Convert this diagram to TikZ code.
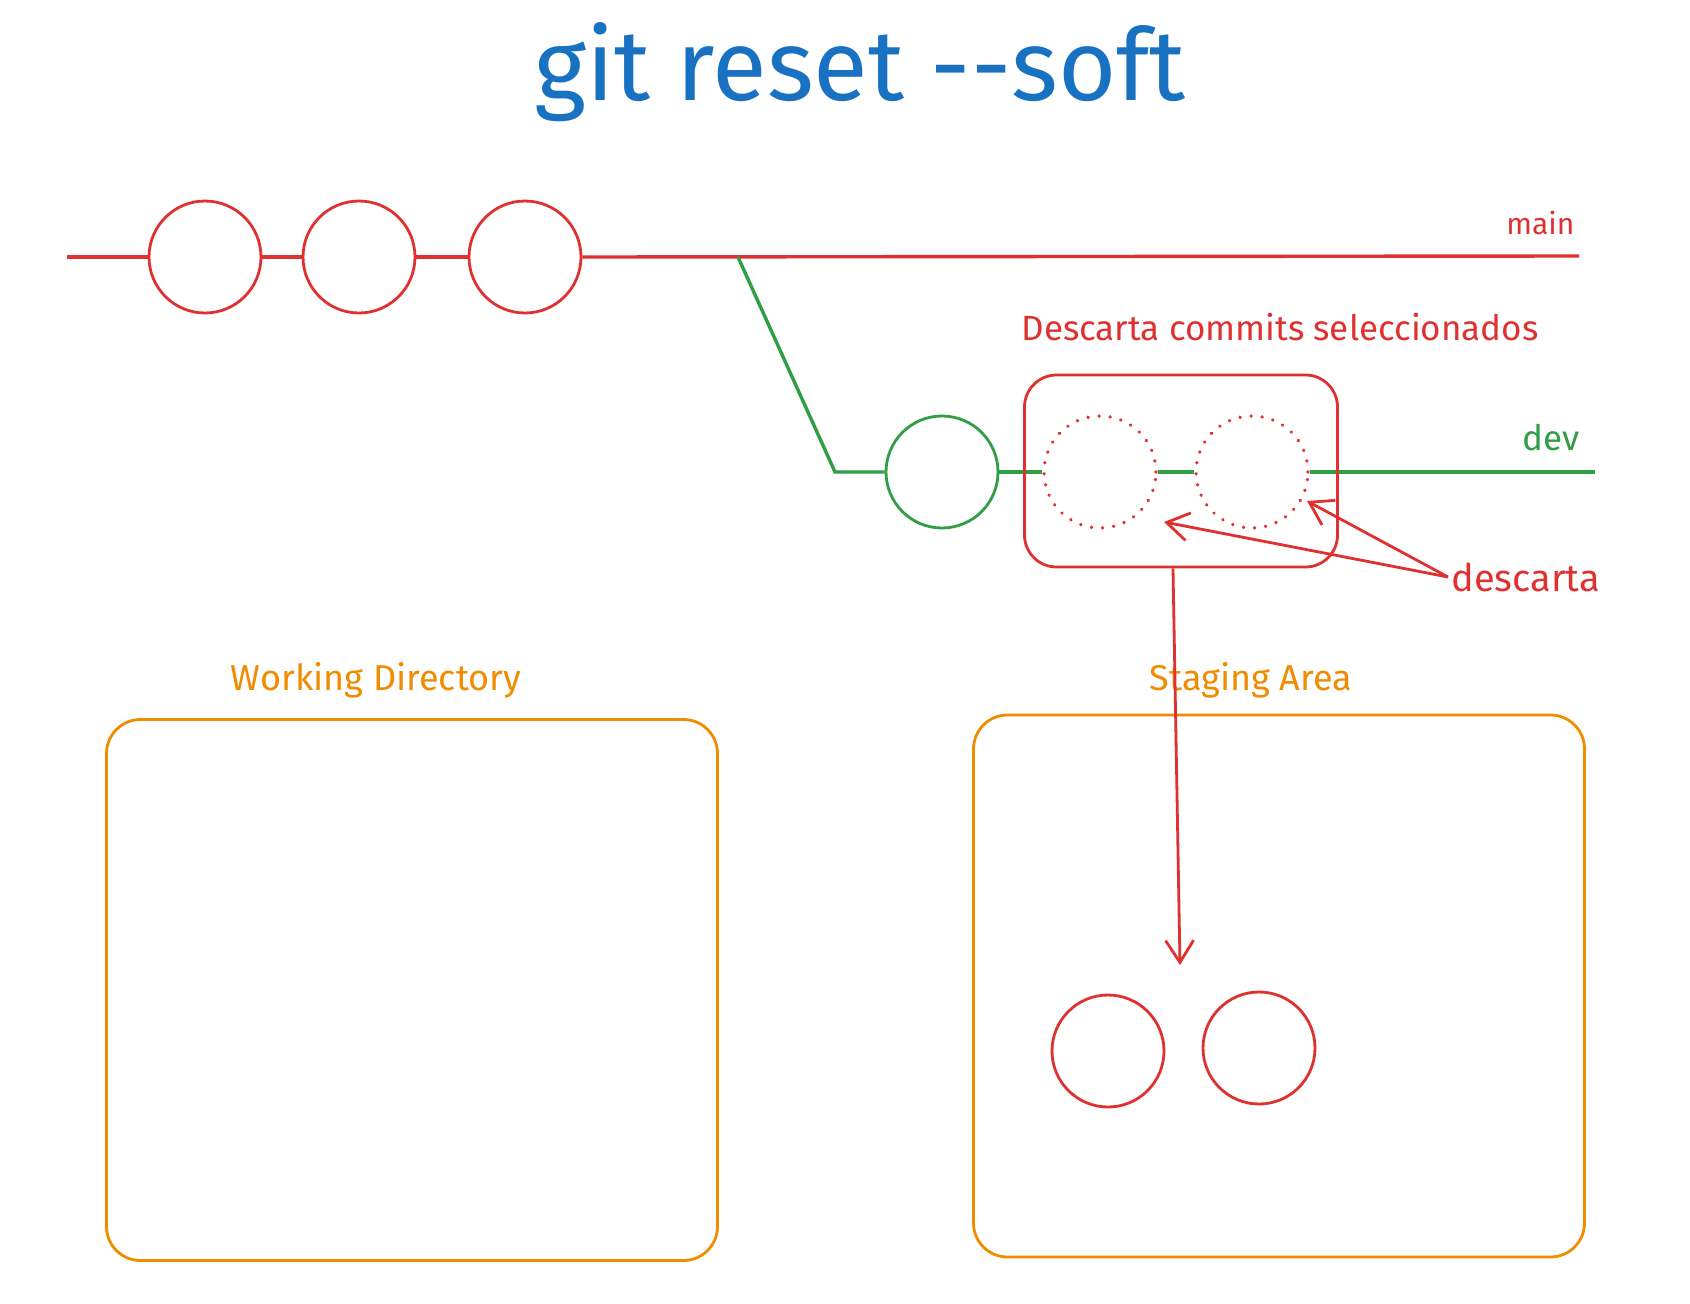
\documentclass[tikz,border=0pt]{standalone}
\usepackage{fontspec}
\setmainfont{Fira Sans}
\usetikzlibrary{arrows.meta}
\definecolor{xred}{HTML}{E03131}
\definecolor{xgreen}{HTML}{2F9E44}
\definecolor{xblue}{HTML}{1971C2}
\definecolor{xorange}{HTML}{F08C00}
\begin{document}
\begin{tikzpicture}[x=1pt,y=-1pt,
  commit/.style={circle,draw=xred,line width=2.8pt,minimum size=112pt,inner sep=0pt},
  gcommit/.style={commit,draw=xgreen},
  gone/.style={commit,line width=3.6pt,line cap=round,dash pattern=on 0.1pt off 11pt},
  rline/.style={draw=xred,line width=3.4pt},
  gline/.style={draw=xgreen,line width=3.4pt},
  area/.style={draw=xorange,line width=2.8pt,rounded corners=34pt},
  arealabel/.style={text=xorange,font=\fontsize{36}{40}\selectfont},
  barb/.style={-{Straight Barb[length=22pt,width=28pt,line width=2.8pt]},draw=xred,line width=2.8pt}
]
\useasboundingbox (0,0) rectangle (1690,1304);
\fill[white] (0,0) rectangle (1690,1304);
% title
\node[text=xblue,font=\fontsize{100}{110}\selectfont] (title) at (860,72) {git reset -{}-soft};
% main branch
\coordinate (mstart) at (67,257);
\coordinate (mend) at (1579,256);
\coordinate (br) at (738,257);
\node[commit] (c1) at (205,257) {};
\node[commit] (c2) at (359,257) {};
\node[commit] (c3) at (525,257) {};
\draw[rline] (mstart) -- (c1.west);
\draw[rline] (c1.east) -- (c2.west);
\draw[rline] (c2.east) -- (c3.west);
\draw[rline] (c3.east) -- (mend);
\node[text=xred,font=\fontsize{30}{34}\selectfont,anchor=south east] (mainlbl) at (1578,238) {main};
% dev branch
\coordinate (dcorner) at (835,472);
\coordinate (dend) at (1595,472);
\node[gcommit] (g1) at (942,472) {};
\node[gone] (d1) at (1100,472) {};
\node[gone] (d2) at (1252,472) {};
\draw[gline] (br) -- (dcorner) -- (g1.west);
\draw[gline] (g1.east) -- (d1.west);
\draw[gline] (d1.east) -- (d2.west);
\draw[gline] (d2.east) -- (dend);
\node[text=xgreen,font=\fontsize{35}{38}\selectfont,anchor=south east] (devlbl) at (1583,454) {dev};
% selection box
\node[draw=xred,line width=2.8pt,rounded corners=32pt,minimum width=313pt,minimum height=192pt] (sel) at (1181,471) {};
\node[text=xred,font=\fontsize{35}{40}\selectfont] (desc) at (1280,327) {Descarta commits seleccionados};
\node[text=xred,font=\fontsize{38}{42}\selectfont,anchor=west] (dlbl) at (1448,577) {descarta};
\coordinate (t1) at (1164,522);
\coordinate (t2) at (1307,501);
\draw[barb] (dlbl.west) -- (t1);
\draw[barb] (dlbl.west) -- (t2);
% areas
\node[area,minimum width=611pt,minimum height=541pt] (wd) at (412,990) {};
\node[area,minimum width=611pt,minimum height=542pt] (sa) at (1279,986) {};
\node[arealabel,anchor=south] (wdl) at (376,702) {Working Directory};
\node[arealabel,anchor=south] (sal) at (1251,702) {Staging Area};
% down arrow
\coordinate (dn) at (1180,965);
\draw[barb] ([xshift=-8pt]sel.south) -- (dn);
\node[commit] (s1) at (1108,1051) {};
\node[commit] (s2) at (1259,1048) {};
\end{tikzpicture}
\end{document}
